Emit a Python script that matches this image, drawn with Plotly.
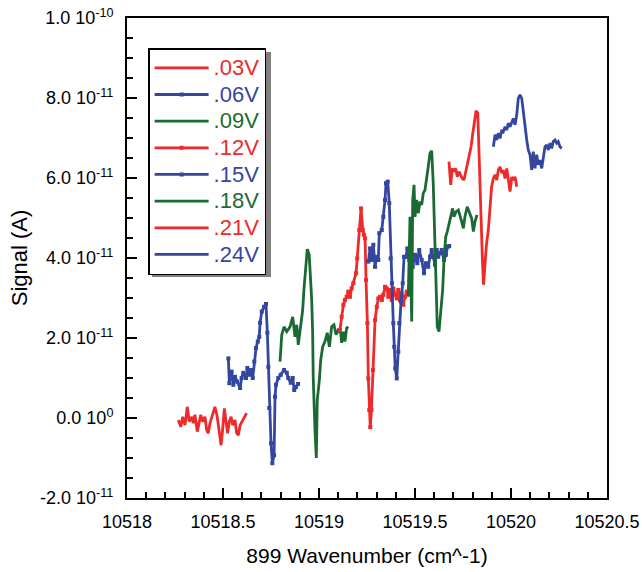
import plotly.graph_objects as go

# ---------------- data (signal in units of 1e-11 A) ----------------
SCALE = 1e-11

x_03 = [10518.267, 10518.280, 10518.290, 10518.302, 10518.314, 10518.324, 10518.337, 10518.345,
        10518.354, 10518.366, 10518.377, 10518.384, 10518.394, 10518.406, 10518.415, 10518.423,
        10518.432, 10518.446, 10518.458, 10518.470, 10518.481, 10518.490, 10518.498, 10518.507,
        10518.516, 10518.524, 10518.533, 10518.542, 10518.551, 10518.5625, 10518.571, 10518.580,
        10518.589, 10518.603, 10518.615, 10518.623]
y_03 = [-0.05, -0.22, 0.03, -0.18, 0.28, -0.09, 0.03, -0.13, 0.08, -0.34, -0.09, 0.08,
        -0.09, 0.03, -0.30, -0.38, -0.13, 0.08, 0.28, 0.03, -0.30, -0.68, -0.30, 0.24,
        -0.09, -0.38, -0.09, 0.03, -0.18, -0.05, -0.38, -0.43, -0.18, -0.05, 0.08, 0.12]

x_06 = [10518.528, 10518.533, 10518.545, 10518.554, 10518.5625, 10518.574, 10518.589, 10518.597,
        10518.606, 10518.620, 10518.627, 10518.637, 10518.646, 10518.655, 10518.663, 10518.672,
        10518.681, 10518.689, 10518.693, 10518.702, 10518.714, 10518.724, 10518.731, 10518.736,
        10518.741, 10518.750, 10518.757, 10518.766, 10518.771, 10518.776, 10518.788, 10518.801,
        10518.818, 10518.832, 10518.840, 10518.853, 10518.863, 10518.871, 10518.880, 10518.891]
y_06 = [1.49, 0.87, 1.16, 0.83, 1.03, 0.91, 0.75, 1.00, 1.13, 1.00, 1.25, 1.08, 1.20, 1.00,
        1.41, 1.75, 1.91, 2.03, 2.38, 2.66, 2.78, 2.85, 2.13, 1.28, 0.25, -0.63, -1.13, -0.93,
        0.53, 0.83, 1.00, 1.08, 1.20, 1.13, 1.00, 0.88, 1.00, 0.70, 0.78, 0.85]

x_09 = [10518.797, 10518.806, 10518.818, 10518.832, 10518.849, 10518.863, 10518.875, 10518.884,
        10518.892, 10518.905, 10518.915, 10518.922, 10518.932, 10518.939, 10518.949, 10518.957,
        10518.962, 10518.967, 10518.970, 10518.979, 10518.986, 10518.991, 10519.002, 10519.009,
        10519.019, 10519.031, 10519.043, 10519.054, 10519.066, 10519.078, 10519.089, 10519.100,
        10519.113, 10519.118, 10519.127, 10519.135, 10519.144, 10519.153]
y_09 = [1.41, 2.08, 2.28, 2.16, 2.28, 2.53, 2.03, 2.33, 1.83, 2.38, 2.70, 3.24, 3.78, 4.22,
        4.08, 3.53, 2.95, 2.13, 1.00, -0.30, -1.00, 0.45, 0.95, 1.45, 1.78, 1.91, 2.13, 1.78,
        2.28, 2.33, 2.08, 2.20, 2.13, 1.88, 2.16, 1.91, 2.25, 2.28]

x_12 = [10519.109, 10519.118, 10519.127, 10519.135, 10519.144, 10519.153, 10519.161, 10519.170,
        10519.179, 10519.193, 10519.199, 10519.210, 10519.219, 10519.228, 10519.234, 10519.240,
        10519.245, 10519.252, 10519.257, 10519.262, 10519.267, 10519.273, 10519.281, 10519.292,
        10519.301, 10519.309, 10519.318, 10519.327, 10519.335, 10519.344, 10519.353, 10519.361,
        10519.370, 10519.379, 10519.387, 10519.396, 10519.405, 10519.413, 10519.422, 10519.431,
        10519.439, 10519.448, 10519.457]
y_12 = [2.20, 2.53, 2.83, 2.95, 3.03, 3.16, 3.03, 3.24, 3.37, 3.62, 3.99, 4.70, 5.24, 4.70,
        4.58, 4.49, 3.45, 2.37, 0.99, 0.20, -0.23, 0.20, 1.20, 2.45, 2.78, 2.99, 3.03, 2.95,
        3.08, 3.28, 3.24, 3.03, 3.20, 2.95, 3.24, 3.08, 2.99, 3.20, 2.95, 3.12, 2.83, 3.03, 3.16]

x_15 = [10519.257, 10519.266, 10519.274, 10519.283, 10519.292, 10519.301, 10519.309, 10519.314,
        10519.327, 10519.335, 10519.344, 10519.349, 10519.358, 10519.366, 10519.373, 10519.380,
        10519.387, 10519.392, 10519.397, 10519.405, 10519.413, 10519.418, 10519.427, 10519.436,
        10519.443, 10519.453, 10519.460, 10519.470, 10519.479, 10519.488, 10519.500, 10519.512,
        10519.522, 10519.535, 10519.547, 10519.557, 10519.569, 10519.578, 10519.587, 10519.595,
        10519.604, 10519.613, 10519.621, 10519.630, 10519.639, 10519.651, 10519.661, 10519.670,
        10519.678]
y_15 = [3.91, 4.24, 3.95, 4.33, 3.78, 4.03, 3.95, 4.62, 4.70, 5.03, 5.45, 5.87, 5.91, 5.37,
        3.99, 3.37, 2.37, 1.78, 1.24, 0.99, 1.66, 2.37, 2.91, 3.37, 4.03, 4.03, 4.24, 3.95,
        4.03, 3.78, 4.08, 3.87, 4.20, 3.95, 3.62, 3.87, 3.78, 4.03, 4.20, 4.03, 3.83, 4.20,
        4.03, 4.12, 4.20, 3.95, 4.08, 4.28, 4.30]

x_18 = [10519.465, 10519.470, 10519.474, 10519.478, 10519.483, 10519.488, 10519.495, 10519.500,
        10519.509, 10519.517, 10519.526, 10519.535, 10519.543, 10519.552, 10519.561, 10519.569,
        10519.578, 10519.587, 10519.595, 10519.604, 10519.609, 10519.616, 10519.625, 10519.634,
        10519.644, 10519.651, 10519.660, 10519.668, 10519.677, 10519.686, 10519.696, 10519.703,
        10519.714, 10519.726, 10519.734, 10519.743, 10519.752, 10519.760, 10519.772, 10519.783,
        10519.795, 10519.804, 10519.8125, 10519.823]
y_18 = [3.03, 4.20, 5.03, 3.53, 2.41, 5.45, 5.83, 5.03, 5.45, 5.12, 5.41, 5.33, 5.62, 5.70,
        5.95, 6.28, 6.62, 6.68, 5.87, 4.53, 3.37, 2.28, 2.16, 2.78, 3.20, 3.95, 4.53, 4.66,
        4.83, 4.99, 5.24, 5.03, 5.16, 5.20, 5.08, 4.91, 4.74, 5.03, 5.28, 5.16, 4.99, 4.66,
        4.91, 5.08]

x_21 = [10519.677, 10519.686, 10519.694, 10519.703, 10519.712, 10519.720, 10519.729, 10519.738,
        10519.746, 10519.755, 10519.764, 10519.772, 10519.783, 10519.792, 10519.800, 10519.809,
        10519.818, 10519.827, 10519.832, 10519.839, 10519.844, 10519.851, 10519.857, 10519.865,
        10519.872, 10519.882, 10519.891, 10519.899, 10519.908, 10519.917, 10519.926, 10519.934,
        10519.943, 10519.952, 10519.960, 10519.969, 10519.978, 10519.986, 10519.995, 10520.004,
        10520.012, 10520.021, 10520.030]
y_21 = [6.41, 5.83, 6.24, 6.16, 6.24, 6.03, 6.16, 6.08, 5.99, 5.95, 6.16, 6.33, 6.53, 6.78,
        7.08, 7.45, 7.68, 7.62, 6.78, 5.53, 4.78, 3.95, 3.33, 3.83, 4.33, 4.70, 5.28, 5.78,
        5.99, 6.08, 5.95, 6.20, 6.28, 6.12, 6.20, 5.99, 6.24, 5.95, 5.66, 6.03, 5.95, 6.03, 5.78]

x_24 = [10519.908, 10519.917, 10519.926, 10519.934, 10519.943, 10519.952, 10519.960, 10519.969,
        10519.978, 10519.986, 10519.995, 10520.004, 10520.012, 10520.021, 10520.030, 10520.038,
        10520.047, 10520.056, 10520.064, 10520.073, 10520.082, 10520.090, 10520.099, 10520.108,
        10520.116, 10520.125, 10520.134, 10520.142, 10520.151, 10520.160, 10520.168, 10520.177,
        10520.186, 10520.194, 10520.203, 10520.212, 10520.220, 10520.229, 10520.238, 10520.246,
        10520.255, 10520.264]
y_24 = [6.78, 7.08, 6.95, 7.12, 6.99, 7.20, 7.16, 7.28, 7.20, 7.37, 7.28, 7.41, 7.49, 7.33,
        7.58, 7.99, 8.08, 7.99, 7.62, 7.20, 6.95, 6.70, 6.58, 6.20, 6.66, 6.24, 6.58, 6.33,
        6.45, 6.24, 6.53, 6.78, 6.83, 6.70, 6.87, 6.74, 6.91, 6.95, 6.87, 6.91, 6.78, 6.74]

series_names = [".03V", ".06V", ".09V", ".12V", ".15V", ".18V", ".21V", ".24V"]
series_x = [x_03, x_06, x_09, x_12, x_15, x_18, x_21, x_24]
series_y = [y_03, y_06, y_09, y_12, y_15, y_18, y_21, y_24]
series_markers = [False, True, False, True, True, False, False, False]

x_tick_vals = [10518, 10518.5, 10519, 10519.5, 10520, 10520.5]
x_tick_text = ["10518", "10518.5", "10519", "10519.5", "10520", "10520.5"]
y_tick_vals = [-2e-11, 0, 2e-11, 4e-11, 6e-11, 8e-11, 1e-10]
y_tick_text = ["-2.0 10<sup>-11</sup>", "0.0 10<sup>0</sup>", "2.0 10<sup>-11</sup>",
               "4.0 10<sup>-11</sup>", "6.0 10<sup>-11</sup>", "8.0 10<sup>-11</sup>",
               "1.0 10<sup>-10</sup>"]

RED = "#EE2A2A"
BLUE = "#3447A0"
GREEN = "#1B6A34"
colors = [RED, BLUE, GREEN, RED, BLUE, GREEN, RED, BLUE]

FONT = "Liberation Sans, Arial, sans-serif"

fig = go.Figure()
for name, xs, ys, mk, c in zip(series_names, series_x, series_y, series_markers, colors):
    fig.add_trace(go.Scatter(
        x=xs, y=[v * SCALE for v in ys],
        mode="lines+markers" if mk else "lines",
        name=f'<span style="color:{c};font-size:22px">{name}</span>',
        line=dict(color=c, width=2.8),
        marker=dict(symbol="square", size=4, color=c),
    ))

fig.update_layout(
    width=642, height=572,
    margin=dict(l=127, r=35, t=18, b=74),
    paper_bgcolor="white", plot_bgcolor="white",
    font=dict(family=FONT, color="black", size=18),
    showlegend=True,
    legend=dict(
        x=0.044, y=0.9375, xanchor="left", yanchor="top",
        bgcolor="white", bordercolor="black", borderwidth=1.5,
        font=dict(size=18.2, family=FONT),
        itemwidth=54, tracegroupgap=0,
    ),
    shapes=[dict(type="rect", xref="paper", yref="paper",
                 x0=0.052, x1=0.30, y0=0.4604, y1=0.929,
                 fillcolor="#808080", line=dict(width=0), layer="below")],
)

fig.update_xaxes(
    range=[10518, 10520.5], tickvals=x_tick_vals, ticktext=x_tick_text,
    ticks="inside", ticklen=10, tickwidth=1.5, tickcolor="black",
    minor=dict(dtick=0.1, ticks="inside", ticklen=6, tickwidth=1.5, tickcolor="black"),
    showline=True, linewidth=2, linecolor="black", mirror=True,
    showgrid=False, zeroline=False, automargin=False,
    tickfont=dict(size=18), ticklabelstandoff=6,
    title=dict(text="899 Wavenumber (cm^-1)", font=dict(size=21), standoff=18),
)
fig.update_yaxes(
    range=[-2e-11, 1e-10], tickvals=y_tick_vals, ticktext=y_tick_text,
    ticks="inside", ticklen=10, tickwidth=1.5, tickcolor="black",
    minor=dict(dtick=5e-12, ticks="inside", ticklen=6, tickwidth=1.5, tickcolor="black"),
    showline=True, linewidth=2, linecolor="black", mirror=True,
    showgrid=False, zeroline=False, automargin=False,
    tickfont=dict(size=18), ticklabelstandoff=8,
    title=dict(text="Signal (A)", font=dict(size=22), standoff=6),
)

fig.write_html("out.html")
